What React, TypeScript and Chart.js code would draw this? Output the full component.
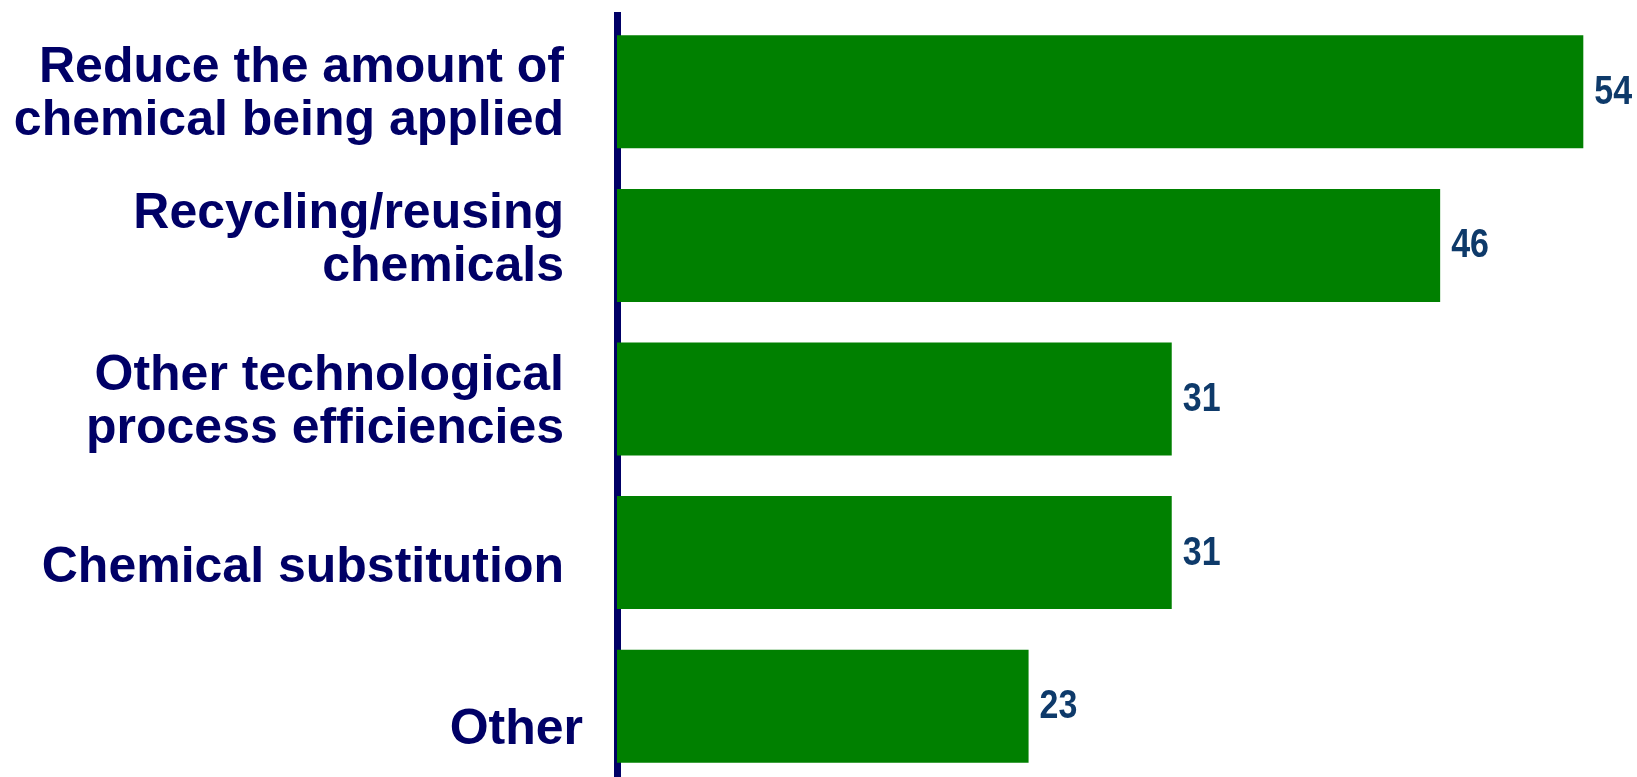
import React, { useEffect, useRef } from "react";
import { Chart, registerables } from "chart.js";

Chart.register(...registerables);

// ---- Data ----
const categories: string[][] = [
  ["Reduce the amount of", "chemical being applied"],
  ["Recycling/reusing", "chemicals"],
  ["Other technological", "process efficiencies"],
  ["Chemical substitution"],
  ["Other"],
];
const values: number[] = [54, 46, 31, 31, 23];

// ---- Styling / layout (not data) ----
const labelNudgeY = [0, -8, 0, 12, 21];
const labelNudgeX = [0, 0, 0, 0, 19];
const NAVY = "#000066";
const GREEN = "#008000";
const VALUE_COLOR = "#0e3a6a";
const FONT_FAMILY = '"Liberation Sans", Arial, Helvetica, sans-serif';

const labelPlugin = {
  id: "customLabels",
  afterDraw(chart: any) {
    const ctx: CanvasRenderingContext2D = chart.ctx;
    const yScale = chart.scales.y;
    const left = chart.chartArea.left;
    ctx.save();
    // category labels
    ctx.fillStyle = NAVY;
    ctx.font = `bold 50px ${FONT_FAMILY}`;
    ctx.textAlign = "right";
    ctx.textBaseline = "alphabetic";
    categories.forEach((lines, i) => {
      const cy = yScale.getPixelForValue(i);
      const n = lines.length;
      lines.forEach((line, k) => {
        const by = cy + 17 + labelNudgeY[i] + (k - (n - 1) / 2) * 53;
        ctx.fillText(line, left - 53 + labelNudgeX[i], by);
      });
    });
    // value labels
    const meta = chart.getDatasetMeta(0);
    ctx.fillStyle = VALUE_COLOR;
    ctx.font = `bold 40px ${FONT_FAMILY}`;
    ctx.textAlign = "left";
    meta.data.forEach((bar: any, i: number) => {
      ctx.save();
      ctx.translate(bar.x + 11, bar.y + 12);
      ctx.scale(0.85, 1);
      ctx.fillText(String(values[i]), 0, 0);
      ctx.restore();
    });
    ctx.restore();
  },
};

export default function App() {
  const canvasRef = useRef<HTMLCanvasElement | null>(null);

  useEffect(() => {
    if (!canvasRef.current) return;
    const chart = new Chart(canvasRef.current, {
      type: "bar",
      data: {
        labels: categories,
        datasets: [
          {
            data: values,
            backgroundColor: GREEN,
            borderWidth: 0,
            categoryPercentage: 1,
            barPercentage: 0.736,
          },
        ],
      },
      options: {
        indexAxis: "y",
        animation: false,
        responsive: false,
        devicePixelRatio: 1,
        layout: { padding: { top: 15, bottom: 0, left: 0, right: 0 } },
        plugins: {
          legend: { display: false },
          tooltip: { enabled: false },
        },
        scales: {
          x: {
            display: false,
            min: 0,
            max: 57,
          },
          y: {
            z: 1,
            ticks: { display: false },
            grid: { display: false, drawTicks: false },
            border: { display: true, color: NAVY, width: 7 },
            afterFit: (scale: any) => {
              scale.width = 617;
            },
          },
        },
      },
      plugins: [labelPlugin],
    } as any);
    return () => chart.destroy();
  }, []);

  return (
    <div
      style={{
        position: "fixed",
        left: 0,
        top: 0,
        width: 1637,
        height: 777,
        overflow: "hidden",
        background: "#ffffff",
      }}
    >
      <canvas ref={canvasRef} width={1637} height={783} style={{ display: "block" }} />
    </div>
  );
}
